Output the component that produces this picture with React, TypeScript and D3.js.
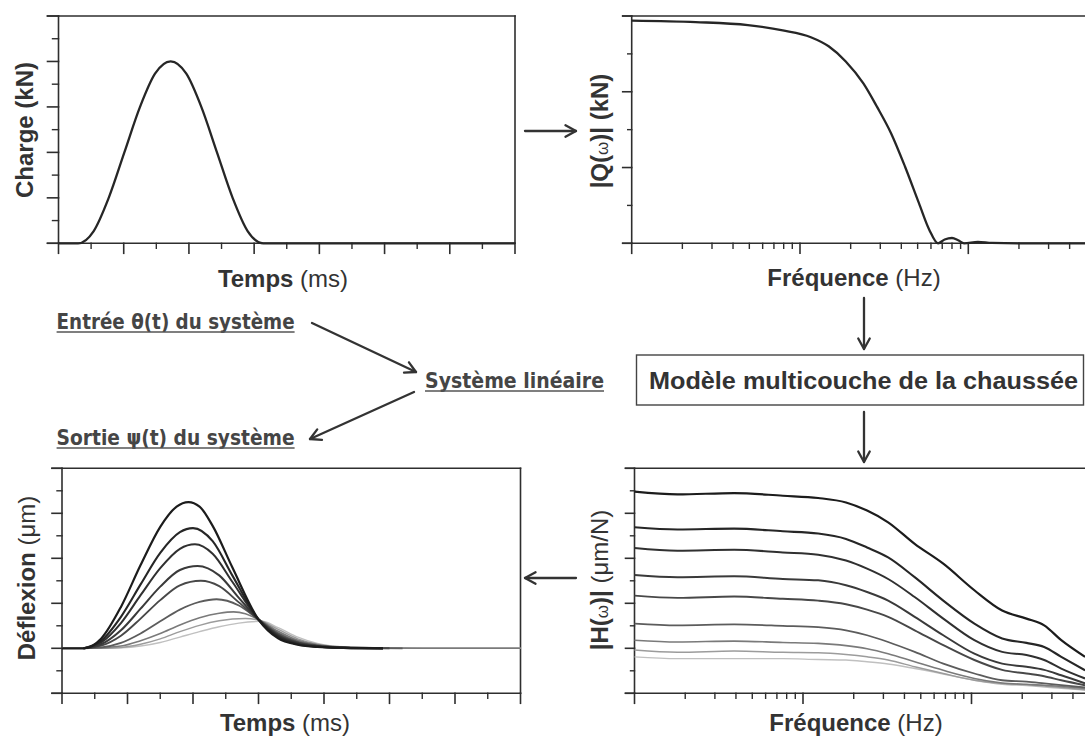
import React from 'react';
import * as d3 from 'd3';

// ---------- DATA ----------
// Top-left: load pulse, time in axis units (7 major divisions), load in axis units (5 major divisions)
const LOAD_TIME = [0, 0.30, 0.54, 0.77, 1.01, 1.25, 1.48, 1.72, 1.96, 2.19, 2.43, 2.67, 2.90, 3.14, 7];
const LOAD_KN = [0, 0, 0.27, 1.0, 2.0, 3.0, 3.73, 4.0, 3.73, 3.0, 2.0, 1.0, 0.27, 0, 0];

// Top-right: |Q(w)| spectrum on a log frequency axis
const FREQ_Q = [1, 2.4, 4.9, 7.9, 11.6, 14.8, 18.7, 23.8, 28.7, 34.8, 42.1, 50.9, 58.6, 66.1, 72.4, 80, 87.1, 94.4, 114, 138, 200, 1000];
const Q_MAG = [2.94, 2.92, 2.88, 2.81, 2.72, 2.60, 2.40, 2.11, 1.80, 1.45, 1.01, 0.53, 0.18, 0, 0.05, 0.07, 0.04, 0, 0.02, 0.005, 0, 0];

// Bottom-left: deflection curves [time, deflection]
const DEFL_1 = [[0, 0], [0.33, 0], [0.6, 0.22], [0.9, 0.92], [1.2, 1.85], [1.5, 2.70], [1.75, 3.15], [1.93, 3.25], [2.1, 3.15], [2.3, 2.72], [2.6, 1.8], [3.0, 0.64], [3.3, 0.22], [3.6, 0.08], [3.9, 0.03], [4.3, 0.01], [4.9, 0]];
const DEFL_2 = [[0.33, 0], [0.6, 0.17], [0.9, 0.70], [1.2, 1.42], [1.5, 2.12], [1.8, 2.58], [2.0, 2.67], [2.3, 2.38], [2.6, 1.62], [3.0, 0.64], [3.3, 0.25], [3.6, 0.09], [3.9, 0.035], [4.3, 0.01], [4.9, 0]];
const DEFL_3 = [[0.33, 0], [0.6, 0.13], [0.9, 0.56], [1.2, 1.18], [1.5, 1.78], [1.8, 2.21], [2.03, 2.31], [2.3, 2.1], [2.6, 1.48], [3.0, 0.64], [3.3, 0.27], [3.6, 0.1], [3.9, 0.04], [4.3, 0.01], [4.9, 0]];
const DEFL_4 = [[0.33, 0], [0.6, 0.09], [0.9, 0.40], [1.2, 0.88], [1.5, 1.37], [1.8, 1.74], [2.07, 1.83], [2.4, 1.62], [2.7, 1.12], [3.0, 0.64], [3.3, 0.29], [3.6, 0.12], [3.9, 0.05], [4.3, 0.015], [4.9, 0]];
const DEFL_5 = [[0.33, 0], [0.6, 0.06], [0.9, 0.28], [1.2, 0.66], [1.5, 1.07], [1.8, 1.40], [2.12, 1.50], [2.4, 1.38], [2.7, 1.02], [3.0, 0.64], [3.3, 0.31], [3.6, 0.13], [3.9, 0.055], [4.3, 0.015], [5.0, 0]];
const DEFL_6 = [[0.33, 0], [0.6, 0.02], [0.9, 0.12], [1.2, 0.33], [1.5, 0.60], [1.8, 0.86], [2.1, 1.03], [2.36, 1.09], [2.7, 0.95], [3.0, 0.64], [3.3, 0.34], [3.6, 0.15], [3.9, 0.065], [4.3, 0.02], [5.2, 0]];
const DEFL_7 = [[0, 0], [0.4, 0], [0.9, 0.05], [1.2, 0.17], [1.5, 0.33], [1.8, 0.52], [2.1, 0.68], [2.4, 0.78], [2.62, 0.81], [2.8, 0.77], [3.0, 0.64], [3.3, 0.38], [3.6, 0.18], [3.9, 0.08], [4.3, 0.025], [5.5, 0], [7, 0]];
const DEFL_8 = [[0, 0], [0.5, 0], [0.9, 0.02], [1.2, 0.09], [1.5, 0.21], [1.8, 0.37], [2.1, 0.51], [2.4, 0.61], [2.8, 0.66], [3.0, 0.63], [3.3, 0.42], [3.6, 0.21], [3.9, 0.09], [4.3, 0.03], [5.5, 0], [7, 0]];
const DEFL_9 = [[0, 0], [0.6, 0], [0.9, 0.01], [1.2, 0.05], [1.5, 0.13], [1.8, 0.25], [2.1, 0.37], [2.4, 0.48], [2.7, 0.56], [3.05, 0.60], [3.3, 0.46], [3.6, 0.25], [3.9, 0.11], [4.3, 0.035], [5.5, 0], [7, 0]];
const DEFL_CURVES = [DEFL_1, DEFL_2, DEFL_3, DEFL_4, DEFL_5, DEFL_6, DEFL_7, DEFL_8, DEFL_9];

// Bottom-right: |H(w)| transfer functions on a log frequency axis
const FREQ_H = [1, 1.8, 3.9, 7.6, 12.3, 18, 24, 32, 46, 68, 104, 152, 212, 270, 341, 472];
const H_1 = [4.48, 4.42, 4.45, 4.39, 4.34, 4.24, 4.06, 3.80, 3.32, 2.88, 2.29, 1.84, 1.66, 1.51, 1.18, 0.81];
const H_2 = [3.69, 3.64, 3.66, 3.60, 3.55, 3.43, 3.24, 3.02, 2.58, 2.06, 1.55, 1.22, 1.12, 1.03, 0.81, 0.51];
const H_3 = [3.23, 3.17, 3.19, 3.13, 3.08, 2.95, 2.77, 2.54, 2.14, 1.66, 1.18, 0.92, 0.85, 0.74, 0.55, 0.33];
const H_4 = [2.63, 2.58, 2.60, 2.54, 2.51, 2.40, 2.25, 2.06, 1.70, 1.29, 0.88, 0.66, 0.59, 0.52, 0.40, 0.22];
const H_5 = [2.17, 2.12, 2.15, 2.10, 2.06, 1.98, 1.86, 1.70, 1.40, 1.07, 0.74, 0.52, 0.44, 0.38, 0.29, 0.18];
const H_6 = [1.55, 1.51, 1.53, 1.50, 1.47, 1.40, 1.29, 1.14, 0.92, 0.66, 0.44, 0.29, 0.26, 0.22, 0.18, 0.13];
const H_7 = [1.18, 1.14, 1.16, 1.13, 1.11, 1.06, 0.99, 0.88, 0.70, 0.51, 0.33, 0.23, 0.20, 0.18, 0.15, 0.11];
const H_8 = [0.96, 0.91, 0.94, 0.91, 0.90, 0.86, 0.81, 0.74, 0.59, 0.44, 0.29, 0.22, 0.19, 0.16, 0.13, 0.08];
const H_9 = [0.81, 0.77, 0.77, 0.77, 0.75, 0.74, 0.70, 0.65, 0.55, 0.43, 0.29, 0.20, 0.17, 0.14, 0.11, 0.07];
const H_CURVES = [H_1, H_2, H_3, H_4, H_5, H_6, H_7, H_8, H_9];

// Tick values
const LIN_X_MAJOR = [0, 1, 2, 3, 4, 5, 6, 7];
const LIN_X_MINOR = [0.5, 1.5, 2.5, 3.5, 4.5, 5.5, 6.5];
const LOG_MAJOR = [1, 10, 100, 1000];
const LOG_MINOR = [2, 3, 4, 5, 6, 7, 8, 9, 20, 30, 40, 50, 60, 70, 80, 90, 200, 300, 400, 500, 600, 700, 800, 900];
const TL_Y_MAJOR = [0, 1, 2, 3, 4, 5];
const TL_Y_MINOR = [0.5, 1.5, 2.5, 3.5, 4.5];
const TR_Y_MAJOR = [0, 1, 2, 3];
const TR_Y_MINOR = [0.5, 1.5, 2.5];
const BL_Y_MAJOR = [-1, 0, 1, 2, 3, 4];
const BL_Y_MINOR = [-0.5, 0.5, 1.5, 2.5, 3.5];
const BR_Y_MAJOR = [0, 1, 2, 3, 4, 5];
const BR_Y_MINOR = [0.5, 1.5, 2.5, 3.5, 4.5];

// Styles
const SERIES_COLORS = ['#1c1c1c', '#262626', '#303030', '#3a3a3a', '#484848', '#5c5c5c', '#7a7a7a', '#9c9c9c', '#c0c0c0'];
const SERIES_WIDTHS = [2.2, 2.1, 2.0, 2.0, 1.9, 1.8, 1.6, 1.5, 1.4];
const AXIS = '#2e2e2e';
const TXT = '#333';
const FONT = "'Liberation Sans', Arial, Helvetica, sans-serif";
const NARROW = "'Liberation Sans Narrow', 'Arial Narrow', 'DejaVu Sans Condensed', 'Liberation Sans', sans-serif";

const W = 1085;
const H = 739;

// ---------- scales ----------
const tlX = d3.scaleLinear().domain([0, 7]).range([58.5, 515]);
const tlY = d3.scaleLinear().domain([0, 5]).range([243.3, 16]);
const trX = d3.scaleLog().domain([1, 1000]).range([631.7, 631.7 + 3 * 168.3]);
const trY = d3.scaleLinear().domain([0, 3]).range([243.3, 16]);
const blX = d3.scaleLinear().domain([0, 7]).range([62, 520.5]);
const blY = d3.scaleLinear().domain([-1, 4]).range([693.3, 468.3]);
const brX = d3.scaleLog().domain([1, 1000]).range([634.5, 634.5 + 3 * 168.5]);
const brY = d3.scaleLinear().domain([0, 5]).range([693.3, 468.3]);

function Frame({ sx, sy, xMaj, xMin, yMaj, yMin, rightBorder, xMajLen = 10, xMinLen = 5, yMajLen = 10, yMinLen = 5 }:
  { sx: any; sy: any; xMaj: number[]; xMin: number[]; yMaj: number[]; yMin: number[]; rightBorder: boolean; xMajLen?: number; xMinLen?: number; yMajLen?: number; yMinLen?: number }) {
  const [x0, x1r] = sx.range();
  const x1 = Math.min(x1r, W);
  const [yb, yt] = sy.range();
  const inX = (v: number) => sx(v) <= W + 1;
  return (
    <g stroke={AXIS} fill="none" strokeLinecap="square">
      <line x1={x0 - yMajLen} y1={yt} x2={x1} y2={yt} strokeWidth={1.6} />
      <line x1={x0 - yMajLen} y1={yb} x2={x1} y2={yb} strokeWidth={1.6} />
      <line x1={x0} y1={yt} x2={x0} y2={yb} strokeWidth={1.6} />
      {rightBorder && <line x1={x1} y1={yt} x2={x1} y2={yb} strokeWidth={1.6} />}
      {xMaj.filter(inX).map((v) => (
        <line key={'xM' + v} x1={sx(v)} y1={yb} x2={sx(v)} y2={yb + xMajLen} strokeWidth={1.6} />
      ))}
      {xMin.filter(inX).map((v) => (
        <line key={'xm' + v} x1={sx(v)} y1={yb} x2={sx(v)} y2={yb + xMinLen} strokeWidth={1.4} />
      ))}
      {yMaj.map((v) => (
        <line key={'yM' + v} x1={x0} y1={sy(v)} x2={x0 - yMajLen} y2={sy(v)} strokeWidth={1.6} />
      ))}
      {yMin.map((v) => (
        <line key={'ym' + v} x1={x0} y1={sy(v)} x2={x0 - yMinLen} y2={sy(v)} strokeWidth={1.4} />
      ))}
    </g>
  );
}

function Arrow({ x1, y1, x2, y2, head = 12 }: { x1: number; y1: number; x2: number; y2: number; head?: number }) {
  const a = Math.atan2(y2 - y1, x2 - x1);
  const s = 0.5;
  const hx1 = x2 - head * Math.cos(a - s);
  const hy1 = y2 - head * Math.sin(a - s);
  const hx2 = x2 - head * Math.cos(a + s);
  const hy2 = y2 - head * Math.sin(a + s);
  return (
    <g stroke="#333" strokeWidth={2.3} fill="none" strokeLinecap="round" strokeLinejoin="round">
      <line x1={x1} y1={y1} x2={x2} y2={y2} />
      <path d={`M${hx1},${hy1} L${x2},${y2} L${hx2},${hy2}`} />
    </g>
  );
}

function UText({ x, y, w, label }: { x: number; y: number; w: number; label: string }) {
  return (
    <g>
      <text x={x} y={y} fontFamily={NARROW} fontWeight="bold" fontSize={22} fill="#454545" textLength={w} lengthAdjust="spacingAndGlyphs">
        {label}
      </text>
      <line x1={x} y1={y + 3} x2={x + w} y2={y + 3} stroke="#555" strokeWidth={1.3} />
    </g>
  );
}

export default function App() {
  const loadLine = d3.line<number>().x((_, i) => tlX(LOAD_TIME[i])).y((d) => tlY(d)).curve(d3.curveMonotoneX);
  const qLine = d3.line<number>().x((_, i) => trX(FREQ_Q[i])).y((d) => trY(d)).curve(d3.curveMonotoneX);
  const deflLine = d3.line<number[]>().x((d) => blX(d[0])).y((d) => blY(d[1])).curve(d3.curveMonotoneX);
  const hLine = d3.line<number>().x((_, i) => brX(FREQ_H[i])).y((d) => brY(d)).curve(d3.curveMonotoneX);

  const labelProps = { fontFamily: FONT, fontSize: 24, fill: TXT };

  return (
    <svg width={W} height={H} style={{ position: 'absolute', left: 0, top: 0, background: '#fff' }}>
      <rect x={0} y={0} width={W} height={H} fill="#fff" />

      {/* ---------- Top-left: load ---------- */}
      <Frame sx={tlX} sy={tlY} xMaj={LIN_X_MAJOR} xMin={LIN_X_MINOR} yMaj={TL_Y_MAJOR} yMin={TL_Y_MINOR} rightBorder={true} yMajLen={11} yMinLen={6} />
      <path d={loadLine(LOAD_KN) || ''} fill="none" stroke="#262626" strokeWidth={2.3} />
      <text {...labelProps} textAnchor="middle" transform="translate(33,130) rotate(-90)">
        <tspan fontWeight="bold">Charge (kN)</tspan>
      </text>
      <text {...labelProps} x={283} y={287} textAnchor="middle">
        <tspan fontWeight="bold">Temps</tspan> (ms)
      </text>

      {/* ---------- Top-right: spectrum ---------- */}
      <Frame sx={trX} sy={trY} xMaj={LOG_MAJOR} xMin={LOG_MINOR} yMaj={TR_Y_MAJOR} yMin={TR_Y_MINOR} rightBorder={false} yMajLen={9} yMinLen={4} />
      <path d={qLine(Q_MAG) || ''} fill="none" stroke="#262626" strokeWidth={2.3} />
      <text {...labelProps} textAnchor="middle" transform="translate(608,131) rotate(-90)">
        <tspan fontWeight="bold">|Q(</tspan><tspan fontSize={17}>ω</tspan><tspan fontWeight="bold">)| (kN)</tspan>
      </text>
      <text {...labelProps} x={854} y={286} textAnchor="middle">
        <tspan fontWeight="bold">Fréquence</tspan> (Hz)
      </text>

      {/* ---------- Middle: diagram ---------- */}
      <UText x={56.6} y={329} w={238} label="Entrée θ(t) du système" />
      <UText x={425} y={388} w={179} label="Système linéaire" />
      <UText x={56.6} y={445} w={238} label="Sortie ψ(t) du système" />
      <Arrow x1={312} y1={323} x2={416} y2={372} />
      <Arrow x1={414} y1={392} x2={310} y2={439} />

      <Arrow x1={525} y1={131} x2={576} y2={131} />
      <Arrow x1={576} y1={578} x2={525} y2={578} />
      <Arrow x1={864} y1={298} x2={864} y2={349} />
      <Arrow x1={864} y1={412} x2={864} y2={462} />

      <rect x={636.5} y={355} width={447} height={50} fill="#fff" stroke="#444" strokeWidth={1.4} />
      <text x={649} y={389} fontFamily={FONT} fontWeight="bold" fontSize={23} fill={TXT} textLength={429} lengthAdjust="spacingAndGlyphs">
        Modèle multicouche de la chaussée
      </text>

      {/* ---------- Bottom-left: deflection ---------- */}
      <Frame sx={blX} sy={blY} xMaj={LIN_X_MAJOR} xMin={LIN_X_MINOR} yMaj={BL_Y_MAJOR} yMin={BL_Y_MINOR} rightBorder={true} />
      {DEFL_CURVES.map((c, i) => i).reverse().map((i) => (
        <path key={'d' + i} d={deflLine(DEFL_CURVES[i]) || ''} fill="none" stroke={SERIES_COLORS[i]} strokeWidth={SERIES_WIDTHS[i]} />
      ))}
      <text {...labelProps} textAnchor="middle" transform="translate(35,578) rotate(-90)">
        <tspan fontWeight="bold">Déflexion</tspan> (μm)
      </text>
      <text {...labelProps} x={285} y={731} textAnchor="middle">
        <tspan fontWeight="bold">Temps</tspan> (ms)
      </text>

      {/* ---------- Bottom-right: transfer functions ---------- */}
      <Frame sx={brX} sy={brY} xMaj={LOG_MAJOR} xMin={LOG_MINOR} yMaj={BR_Y_MAJOR} yMin={BR_Y_MINOR} rightBorder={false} yMajLen={9} yMinLen={4} />
      {H_CURVES.map((c, i) => i).reverse().map((i) => (
        <path key={'h' + i} d={hLine(H_CURVES[i]) || ''} fill="none" stroke={SERIES_COLORS[i]} strokeWidth={SERIES_WIDTHS[i]} />
      ))}
      <text {...labelProps} textAnchor="middle" transform="translate(608,580) rotate(-90)">
        <tspan fontWeight="bold">|H(</tspan><tspan fontSize={17}>ω</tspan><tspan fontWeight="bold">)|</tspan> (μm/N)
      </text>
      <text {...labelProps} x={856} y={731} textAnchor="middle">
        <tspan fontWeight="bold">Fréquence</tspan> (Hz)
      </text>
    </svg>
  );
}
